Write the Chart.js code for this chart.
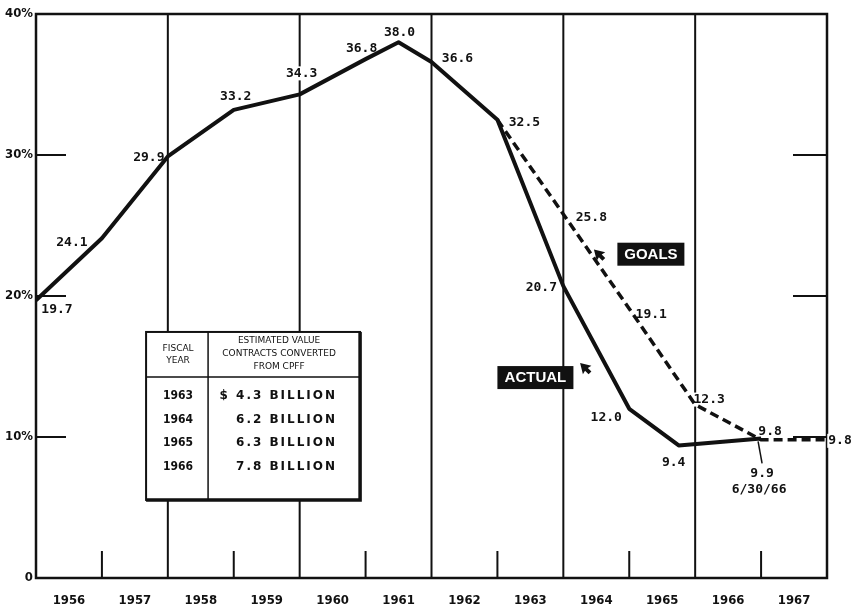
<!DOCTYPE html>
<html lang="en">
<head>
<meta charset="UTF-8">
<title>CPFF contracts</title>
<script src="https://cdn.jsdelivr.net/npm/chart.js"></script>
<style>
  html, body { margin: 0; padding: 0; background: #fff; }
  canvas { display: block; }
</style>
</head>
<body>
<canvas id="cpffChart" width="854" height="611"></canvas>
<script>
// fiscal years along the bottom, one per interval
const fiscalYears = ['1956', '1957', '1958', '1959', '1960', '1961', '1962', '1963', '1964', '1965', '1966', '1967'];

// actual share (%) - x is measured in fiscal-year intervals from the left axis
const actualX = [0, 1, 2, 3, 4, 5, 5.5, 6, 7, 8, 9, 9.75, 11];
const actualPct = [19.7, 24.1, 29.9, 33.2, 34.3, 36.8, 38.0, 36.6, 32.5, 20.7, 12.0, 9.4, 9.9];

// goals (%)
const goalX = [7, 8, 9, 10, 11, 12];
const goalPct = [32.5, 25.8, 19.1, 12.3, 9.8, 9.8];

const yTicks = [0, 10, 20, 30, 40];

// inset table
const tableYears = ['1963', '1964', '1965', '1966'];
const tableAmounts = ['$ 4.3 BILLION', '6.2 BILLION', '6.3 BILLION', '7.8 BILLION'];

const ink = '#111';
const labelFont = 'bold 13px "DejaVu Sans Mono"';

// where each value label sits relative to its point (px)
const actualLabelOffset = [[21, 9], [-30, 4], [-19, 1], [2, -13], [2, -21], [-4, -10], [1, -10], [26, -3], [27, 3], [-22, 1], [-23, 9], [-5, 17], [1, 35]];
const goalLabelOffset = [null, [28, 3], [22, 6], [14, -5], [9, -8], [13, 1]];

function arrowHead(ctx, cx, cy, ang) {
    ctx.save();
    ctx.translate(cx, cy);
    ctx.rotate(ang);
    ctx.beginPath();
    ctx.moveTo(-8, 0);
    ctx.lineTo(2, -6);
    ctx.lineTo(1, -2);
    ctx.lineTo(6, -2);
    ctx.lineTo(6, 2);
    ctx.lineTo(1, 2);
    ctx.lineTo(2, 6);
    ctx.closePath();
    ctx.fill();
    ctx.restore();
}

function label(ctx, text, px, py) {
    ctx.font = labelFont;
    const w = ctx.measureText(text).width;
    ctx.fillStyle = '#fff';
    ctx.fillRect(px - w / 2 - 1, py - 7, w + 2, 14);
    ctx.fillStyle = ink;
    ctx.fillText(text, px, py);
}

const paper = {
    id: 'paper',
    beforeDatasetsDraw(chart) {
        const { ctx, chartArea: a, scales: { x, y } } = chart;
        ctx.save();
        ctx.strokeStyle = ink;
        ctx.lineWidth = 2;
        ctx.beginPath();
        // year boundaries: full lines every two years, short ticks between
        for (let v = 1; v < 12; v++) {
            const px = x.getPixelForValue(v);
            ctx.moveTo(px, v % 2 ? a.bottom - 27 : a.top);
            ctx.lineTo(px, a.bottom);
        }
        [10, 20, 30].forEach(t => {
            const py = y.getPixelForValue(t);
            ctx.moveTo(a.left, py); ctx.lineTo(a.left + 30, py);
            ctx.moveTo(a.right - 34, py); ctx.lineTo(a.right, py);
        });
        ctx.stroke();
        ctx.lineWidth = 2.5;
        ctx.strokeRect(a.left, a.top, a.right - a.left, a.bottom - a.top);

        // value labels
        ctx.textAlign = 'center';
        ctx.textBaseline = 'middle';
        actualPct.forEach((v, i) => {
            const o = actualLabelOffset[i];
            label(ctx, v.toFixed(1), x.getPixelForValue(actualX[i]) + o[0], y.getPixelForValue(v) + o[1]);
        });
        goalPct.forEach((v, i) => {
            const o = goalLabelOffset[i];
            if (!o) return;
            label(ctx, v.toFixed(1), x.getPixelForValue(goalX[i]) + o[0], y.getPixelForValue(v) + o[1]);
        });
        // date note under the 9.9 point, with leader
        const last = actualX.length - 1;
        const lx = x.getPixelForValue(actualX[last]);
        const ly = y.getPixelForValue(actualPct[last]);
        label(ctx, '6/30/66', lx - 2, ly + 51);
        ctx.lineWidth = 1.5;
        ctx.beginPath();
        ctx.moveTo(lx - 3, ly + 3);
        ctx.lineTo(lx + 1, ly + 25);
        ctx.stroke();
        ctx.restore();
    },
    afterDatasetsDraw(chart) {
        const { ctx, scales: { x, y } } = chart;
        ctx.save();

        // inset table
        const L = x.getPixelForValue(1.67), T = y.getPixelForValue(17.45);
        const W = 214, H = 168;
        ctx.fillStyle = '#fff';
        ctx.fillRect(L, T, W, H);
        ctx.strokeStyle = ink;
        ctx.lineWidth = 2;
        ctx.strokeRect(L, T, W, H);
        ctx.lineWidth = 3.5;
        ctx.beginPath();
        ctx.moveTo(L + W, T); ctx.lineTo(L + W, T + H); ctx.lineTo(L, T + H);
        ctx.stroke();
        ctx.lineWidth = 1.5;
        ctx.beginPath();
        ctx.moveTo(L + 62, T); ctx.lineTo(L + 62, T + H);
        ctx.moveTo(L, T + 45); ctx.lineTo(L + W, T + 45);
        ctx.stroke();

        ctx.fillStyle = ink;
        ctx.textAlign = 'center';
        ctx.textBaseline = 'middle';
        ctx.font = '9px "DejaVu Sans"';
        ctx.fillText('FISCAL', L + 32, T + 17);
        ctx.fillText('YEAR', L + 32, T + 29);
        ctx.fillText('ESTIMATED VALUE', L + 133, T + 9);
        ctx.fillText('CONTRACTS CONVERTED', L + 133, T + 22);
        ctx.fillText('FROM CPFF', L + 133, T + 35);
        tableYears.forEach((yr, i) => {
            const ry = T + 64 + i * 23.7;
            ctx.textAlign = 'center';
            ctx.font = 'bold 12px "DejaVu Sans Condensed", "DejaVu Sans"';
            ctx.letterSpacing = '0px';
            ctx.fillText(yr, L + 32, ry);
            ctx.textAlign = 'right';
            ctx.font = 'bold 12px "DejaVu Sans"';
            ctx.letterSpacing = '2px';
            ctx.fillText(tableAmounts[i], L + 191, ry);
        });
        ctx.letterSpacing = '0px';

        // GOALS / ACTUAL tags
        const tag = (text, vx, vy, w) => {
            const px = x.getPixelForValue(vx), py = y.getPixelForValue(vy);
            ctx.fillStyle = ink;
            ctx.fillRect(px, py - 11, w, 23);
            ctx.fillStyle = '#fff';
            ctx.font = 'bold 15px "Liberation Sans"';
            ctx.textAlign = 'center';
            ctx.fillText(text, px + w / 2, py + 1);
        };
        tag('GOALS', 8.82, 23.0, 67);
        tag('ACTUAL', 7.0, 14.25, 76);
        ctx.fillStyle = ink;
        arrowHead(ctx, x.getPixelForValue(8.55), y.getPixelForValue(22.9), Math.PI / 4);
        arrowHead(ctx, x.getPixelForValue(8.34), y.getPixelForValue(14.85), Math.PI / 4);
        ctx.restore();
    }
};

new Chart(document.getElementById('cpffChart'), {
    type: 'line',
    data: {
        datasets: [{
            data: actualX.map((v, i) => ({ x: v, y: actualPct[i] })),
            borderColor: ink,
            borderWidth: 4,
            borderJoinStyle: 'round',
            pointRadius: 0,
            tension: 0
        }, {
            data: goalX.map((v, i) => ({ x: v, y: goalPct[i] })),
            borderColor: ink,
            borderWidth: 3.5,
            borderDash: [9, 5],
            pointRadius: 0,
            tension: 0
        }]
    },
    options: {
        responsive: false,
        animation: false,
        layout: { padding: { top: 14, right: 27, left: 0, bottom: 0 } },
        plugins: { legend: { display: false }, tooltip: { enabled: false } },
        scales: {
            x: {
                type: 'linear', min: 0, max: 12,
                grid: { display: false, drawTicks: false }, border: { display: false },
                afterBuildTicks: s => { s.ticks = fiscalYears.map((_, i) => ({ value: i + 0.5 })); },
                afterFit: s => { s.height = 33; },
                ticks: {
                    autoSkip: false, maxRotation: 0, padding: 15, color: ink,
                    font: { family: '"DejaVu Sans Condensed", "DejaVu Sans"', size: 13, weight: 'bold' },
                    callback: v => fiscalYears[Math.floor(v)]
                }
            },
            y: {
                min: 0, max: 40,
                grid: { display: false, drawTicks: false }, border: { display: false },
                afterBuildTicks: s => { s.ticks = yTicks.map(v => ({ value: v })); },
                afterFit: s => { s.width = 36; },
                ticks: {
                    padding: 3, color: ink,
                    font: { family: '"DejaVu Sans Condensed", "DejaVu Sans"', size: 13, weight: 'bold' },
                    callback: v => v === 0 ? '0' : v + '%'
                }
            }
        }
    },
    plugins: [paper]
});
</script>
</body>
</html>
